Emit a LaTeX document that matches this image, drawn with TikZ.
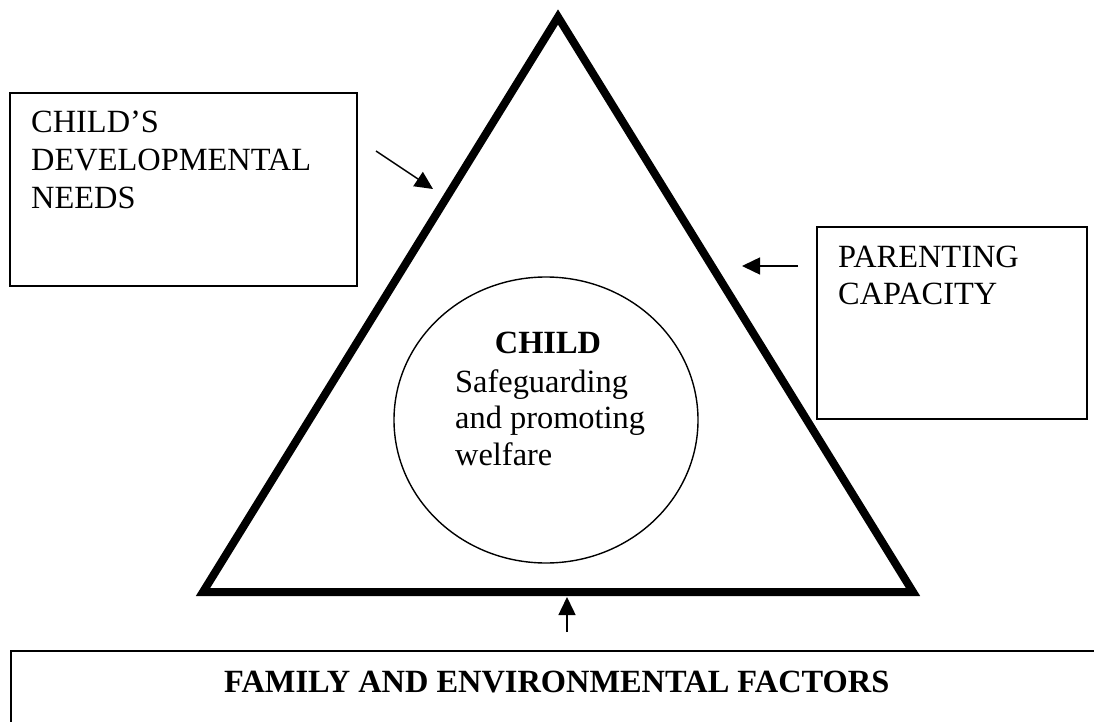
\documentclass[tikz,border=0pt]{standalone}
\usepackage{fontspec}
\setmainfont{Liberation Serif}
\usetikzlibrary{arrows.meta}
\tikzset{
  px/.style={x=1pt,y=-1pt},
  boxline/.style={draw=black,line width=1.6pt},
  tri/.style={draw=black,line width=8pt,line join=miter},
  ring/.style={draw=black,line width=1.4pt},
  lbl/.style={inner sep=0pt,anchor=base west,font=\fontsize{32.4}{37}\selectfont},
  blbl/.style={lbl,font=\fontsize{32.4}{37}\selectfont\bfseries},
  arr/.style={draw=black,line width=1.5pt,-{Triangle[length=18pt,width=17pt]}}
}
\begin{document}
\begin{tikzpicture}[px]
\useasboundingbox (0,0) rectangle (1094,722);
\clip (0,0) rectangle (1094,722);
% boxes
\draw[boxline] (10,93) rectangle (357,286);
\draw[boxline] (817,227) rectangle (1087,419);
\draw[boxline] (11,651) rectangle (1110,760);
% triangle
\coordinate (apex) at (558,17);
\coordinate (bl) at (203,592);
\coordinate (br) at (913,592);
\draw[tri] (apex) -- (br) -- (bl) -- cycle;
% circle
\draw[ring] (546,420) ellipse [x radius=152, y radius=143];
% texts
\node[lbl] (l1) at (31,133) {CHILD’S};
\node[lbl] (l2) at (31,171) {DEVELOPMENTAL};
\node[lbl] (l3) at (31,208) {NEEDS};
\node[lbl] (r1) at (838,267) {PARENTING};
\node[lbl] (r2) at (838,304) {CAPACITY};
\node[blbl,anchor=base] (c0) at (548,353) {CHILD};
\node[lbl] (c1) at (455,392) {Safeguarding};
\node[lbl] (c2) at (455,428) {and promoting};
\node[lbl] (c3) at (455,465) {welfare};
\node[blbl] (b1) at (224,692) {FAMILY AND ENVIRONMENTAL FACTORS};
% arrows
\coordinate (a1s) at (376,151);
\coordinate (a1e) at (433,189);
\coordinate (a2s) at (798,266);
\coordinate (a2e) at (742,266);
\coordinate (a3s) at (567,632);
\coordinate (a3e) at (567,597);
\draw[arr] (a1s) -- (a1e);
\draw[arr] (a2s) -- (a2e);
\draw[arr] (a3s) -- (a3e);
\end{tikzpicture}
\end{document}
